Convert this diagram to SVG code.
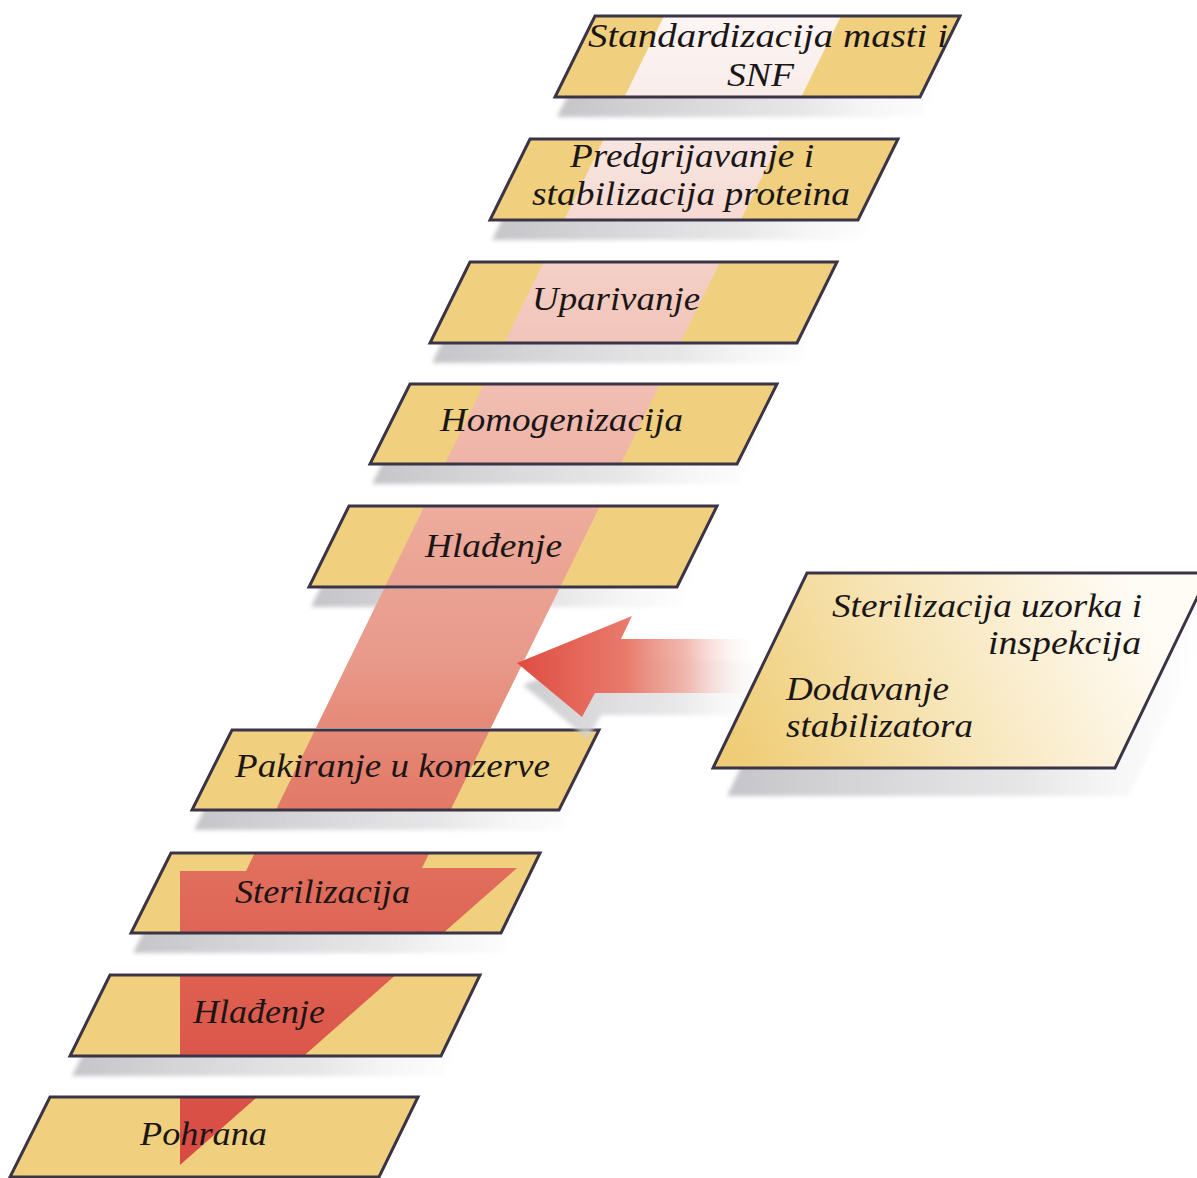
<svg xmlns="http://www.w3.org/2000/svg" xmlns:xlink="http://www.w3.org/1999/xlink" width="1197" height="1178" viewBox="0 0 1197 1178">
<style>
.fill{fill:#f0d07e}
.edge{fill:none;stroke:#3a3446;stroke-width:3;stroke-linejoin:miter}
.shadow{fill:url(#shadowGrad);filter:url(#soft)}
.lbl{font-family:"Liberation Serif","Times New Roman",serif;font-style:italic;font-size:34px;fill:#1b1616}
</style>
<defs>
<filter id="soft" x="-10%" y="-30%" width="120%" height="160%"><feGaussianBlur stdDeviation="2"/></filter>
<linearGradient id="shadowGrad" x1="0" y1="0" x2="1" y2="0">
<stop offset="0" stop-color="#c2c2c6" stop-opacity="0.95"/>
<stop offset="0.6" stop-color="#dcdcde" stop-opacity="0.7"/>
<stop offset="1" stop-color="#f4f4f4" stop-opacity="0"/>
</linearGradient>
<linearGradient id="bandGrad" gradientUnits="userSpaceOnUse" x1="0" y1="10" x2="0" y2="1165">
<stop offset="0" stop-color="#fcf6f4"/>
<stop offset="0.05" stop-color="#faf0ee"/>
<stop offset="0.147" stop-color="#f7e0da"/>
<stop offset="0.251" stop-color="#f3cac0"/>
<stop offset="0.359" stop-color="#f0b9ad"/>
<stop offset="0.463" stop-color="#eca797"/>
<stop offset="0.563" stop-color="#e8998a"/>
<stop offset="0.658" stop-color="#e4806e"/>
<stop offset="0.762" stop-color="#e06b5a"/>
<stop offset="0.870" stop-color="#dd5b4d"/>
<stop offset="1" stop-color="#d84a44"/>
</linearGradient>
<linearGradient id="hArrowGrad" gradientUnits="userSpaceOnUse" x1="517" y1="0" x2="760" y2="0">
<stop offset="0" stop-color="#e04c42"/>
<stop offset="0.45" stop-color="#e87b6c"/>
<stop offset="0.7" stop-color="#f0aea4" stop-opacity="0.85"/>
<stop offset="1" stop-color="#ffffff" stop-opacity="0"/>
</linearGradient>
<linearGradient id="hShadowGrad" gradientUnits="userSpaceOnUse" x1="520" y1="0" x2="770" y2="0">
<stop offset="0" stop-color="#c8c8cc" stop-opacity="0.9"/>
<stop offset="0.6" stop-color="#dedee0" stop-opacity="0.7"/>
<stop offset="1" stop-color="#f4f4f4" stop-opacity="0"/>
</linearGradient>
<linearGradient id="rightBoxGrad" gradientUnits="userSpaceOnUse" x1="740" y1="760" x2="1130" y2="580">
<stop offset="0" stop-color="#efcd76"/>
<stop offset="0.45" stop-color="#f7e4b4"/>
<stop offset="1" stop-color="#fffcf6"/>
</linearGradient>
<polygon id="band" fill="url(#bandGrad)" points="666,12 843,12 422,868 517,868 180,1165 180,871 246,871"/>
<clipPath id="c1"><polygon points="595,16 960,16 920,97 555,97"/></clipPath>
<clipPath id="c2"><polygon points="530,139 898,139 858,220 490,220"/></clipPath>
<clipPath id="c3"><polygon points="470,262 837,262 797,343 430,343"/></clipPath>
<clipPath id="c4"><polygon points="410,384 777,384 737,464 370,464"/></clipPath>
<clipPath id="c5"><polygon points="349,506 717,506 677,587 309,587"/></clipPath>
<clipPath id="c7"><polygon points="232,730 599,730 559,810 192,810"/></clipPath>
<clipPath id="c8"><polygon points="171,853 540,853 501,933 131,933"/></clipPath>
<clipPath id="c9"><polygon points="110,975 480,975 441,1056 70,1056"/></clipPath>
<clipPath id="c10"><polygon points="50,1097 418,1097 379,1177 10,1177"/></clipPath>
<clipPath id="cgap"><rect x="0" y="589" width="1197" height="139"/></clipPath>
</defs>
<rect width="1197" height="1178" fill="#ffffff"/>

<g id="n1">
<polygon class="shadow" points="595,16 960,16 920,97 555,97" transform="translate(2,20)"/>
<polygon class="fill" points="595,16 960,16 920,97 555,97"/>
<use xlink:href="#band" href="#band" clip-path="url(#c1)"/>
<polygon class="edge" points="595,16 960,16 920,97 555,97"/>
<text class="lbl" x="588" y="47" textLength="360" lengthAdjust="spacingAndGlyphs">Standardizacija masti i</text>
<text class="lbl" x="727" y="86" textLength="67" lengthAdjust="spacingAndGlyphs">SNF</text>
</g>

<g id="n2">
<polygon class="shadow" points="530,139 898,139 858,220 490,220" transform="translate(2,20)"/>
<polygon class="fill" points="530,139 898,139 858,220 490,220"/>
<use xlink:href="#band" href="#band" clip-path="url(#c2)"/>
<polygon class="edge" points="530,139 898,139 858,220 490,220"/>
<text class="lbl" x="570" y="167" textLength="244" lengthAdjust="spacingAndGlyphs">Predgrijavanje i</text>
<text class="lbl" x="532" y="205" textLength="318" lengthAdjust="spacingAndGlyphs">stabilizacija proteina</text>
</g>

<g id="n3">
<polygon class="shadow" points="470,262 837,262 797,343 430,343" transform="translate(2,20)"/>
<polygon class="fill" points="470,262 837,262 797,343 430,343"/>
<use xlink:href="#band" href="#band" clip-path="url(#c3)"/>
<polygon class="edge" points="470,262 837,262 797,343 430,343"/>
<text class="lbl" x="532" y="310" textLength="168" lengthAdjust="spacingAndGlyphs">Uparivanje</text>
</g>

<g id="n4">
<polygon class="shadow" points="410,384 777,384 737,464 370,464" transform="translate(2,20)"/>
<polygon class="fill" points="410,384 777,384 737,464 370,464"/>
<use xlink:href="#band" href="#band" clip-path="url(#c4)"/>
<polygon class="edge" points="410,384 777,384 737,464 370,464"/>
<text class="lbl" x="440" y="431" textLength="243" lengthAdjust="spacingAndGlyphs">Homogenizacija</text>
</g>

<g id="n5">
<polygon class="shadow" points="349,506 717,506 677,587 309,587" transform="translate(2,20)"/>
<polygon class="fill" points="349,506 717,506 677,587 309,587"/>
<use xlink:href="#band" href="#band" clip-path="url(#c5)"/>
<polygon class="edge" points="349,506 717,506 677,587 309,587"/>
<text class="lbl" x="425" y="557" textLength="137" lengthAdjust="spacingAndGlyphs">Hlađenje</text>
</g>

<g id="n7">
<polygon class="shadow" points="232,730 599,730 559,810 192,810" transform="translate(2,20)"/>
<polygon class="fill" points="232,730 599,730 559,810 192,810"/>
<use xlink:href="#band" href="#band" clip-path="url(#c7)"/>
<polygon class="edge" points="232,730 599,730 559,810 192,810"/>
<text class="lbl" x="235" y="777" textLength="315" lengthAdjust="spacingAndGlyphs">Pakiranje u konzerve</text>
</g>

<g id="n8">
<polygon class="shadow" points="171,853 540,853 501,933 131,933" transform="translate(2,20)"/>
<polygon class="fill" points="171,853 540,853 501,933 131,933"/>
<use xlink:href="#band" href="#band" clip-path="url(#c8)"/>
<polygon class="edge" points="171,853 540,853 501,933 131,933"/>
<text class="lbl" x="235" y="903" textLength="175" lengthAdjust="spacingAndGlyphs">Sterilizacija</text>
</g>

<g id="n9">
<polygon class="shadow" points="110,975 480,975 441,1056 70,1056" transform="translate(2,20)"/>
<polygon class="fill" points="110,975 480,975 441,1056 70,1056"/>
<use xlink:href="#band" href="#band" clip-path="url(#c9)"/>
<polygon class="edge" points="110,975 480,975 441,1056 70,1056"/>
<text class="lbl" x="193" y="1023" textLength="132" lengthAdjust="spacingAndGlyphs">Hlađenje</text>
</g>

<g id="n10">
<polygon class="fill" points="50,1097 418,1097 379,1177 10,1177"/>
<use xlink:href="#band" href="#band" clip-path="url(#c10)"/>
<polygon class="edge" points="50,1097 418,1097 379,1177 10,1177"/>
<text class="lbl" x="140" y="1145" textLength="127" lengthAdjust="spacingAndGlyphs">Pohrana</text>
</g>

<g id="connectors">
<use xlink:href="#band" href="#band" clip-path="url(#cgap)"/>
<polygon fill="url(#hShadowGrad)" filter="url(#soft)" transform="translate(6,22)" points="517,663 632,616 621,639 770,639 770,693 595,693 582,717"/>
<polygon fill="url(#hArrowGrad)" points="517,663 632,616 621,639 770,639 770,693 595,693 582,717"/>
</g>

<g id="n6">
<polygon class="shadow" points="807,573 1209,573 1115,768 713,768" transform="translate(14,28)"/>
<polygon fill="url(#rightBoxGrad)" points="807,573 1209,573 1115,768 713,768"/>
<polygon class="edge" points="807,573 1209,573 1115,768 713,768"/>
<text class="lbl" x="832" y="617" textLength="310" lengthAdjust="spacingAndGlyphs">Sterilizacija uzorka i</text>
<text class="lbl" x="988" y="654" textLength="153" lengthAdjust="spacingAndGlyphs">inspekcija</text>
<text class="lbl" x="786" y="700" textLength="163" lengthAdjust="spacingAndGlyphs">Dodavanje</text>
<text class="lbl" x="786" y="737" textLength="187" lengthAdjust="spacingAndGlyphs">stabilizatora</text>
</g>
</svg>
